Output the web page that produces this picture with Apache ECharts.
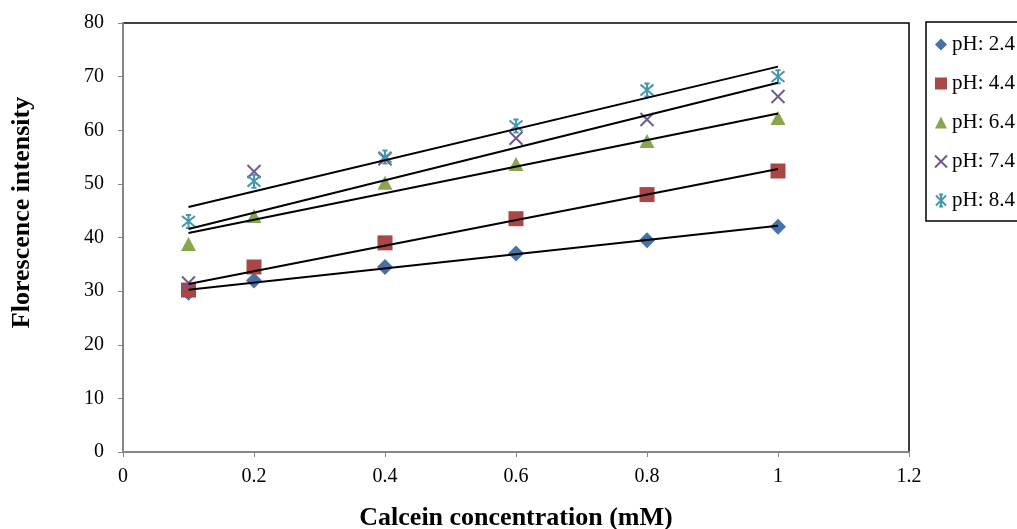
<!DOCTYPE html>
<html>
<head>
<meta charset="utf-8">
<script src="https://cdn.jsdelivr.net/npm/echarts@6/dist/echarts.min.js"></script>
<style>html,body{margin:0;padding:0;background:#fff}#c{width:1017px;height:529px}</style>
</head>
<body>
<div id="c"></div>
<script>
const xValues = [0.1, 0.2, 0.4, 0.6, 0.8, 1.0];
const seriesNames = ['pH: 2.4', 'pH: 4.4', 'pH: 6.4', 'pH: 7.4', 'pH: 8.4'];
const ph24 = [29.7, 32.0, 34.5, 37.0, 39.5, 42.0];
const ph44 = [30.2, 34.5, 39.0, 43.5, 48.0, 52.4];
const ph64 = [38.8, 44.0, 50.2, 53.7, 58.0, 62.3];
const ph74 = [31.5, 52.3, 54.7, 58.5, 62.0, 66.3];
const ph84 = [43.0, 50.5, 55.0, 60.8, 67.5, 70.0];
const allValues = [ph24, ph44, ph64, ph74, ph84];

const colors = ['#4572A7', '#AA4643', '#89A54E', '#71588F', '#4198AF'];
const symbols = [
  'diamond',
  'rect',
  'triangle',
  'path://M0,0L10,10M10,0L0,10',
  'path://M0,0L10,10M10,0L0,10M5,-1L5,11M3,-1L7,-1M3,11L7,11'
];
const sizes = [[16, 16], [15, 15], [15, 14], [13, 13], [13, 13]];

function fit(xs, ys) {
  const n = xs.length;
  const mx = xs.reduce((a, b) => a + b, 0) / n;
  const my = ys.reduce((a, b) => a + b, 0) / n;
  let sxy = 0, sxx = 0;
  for (let i = 0; i < n; i++) { sxy += (xs[i] - mx) * (ys[i] - my); sxx += (xs[i] - mx) ** 2; }
  const b = sxy / sxx, a = my - b * mx;
  return [[xs[0], a + b * xs[0]], [xs[n - 1], a + b * xs[n - 1]]];
}

const font = 'Liberation Serif';
const series = [];
allValues.forEach((vals, i) => {
  const isStroke = i >= 3;
  series.push({
    name: seriesNames[i],
    type: 'scatter',
    data: xValues.map((x, j) => [x, vals[j]]),
    symbol: symbols[i],
    symbolSize: sizes[i],
    z: 3,
    itemStyle: isStroke
      ? { color: 'rgba(0,0,0,0)', borderColor: colors[i], borderWidth: 2, opacity: 1 }
      : { color: colors[i], opacity: 1 }
  });
});
allValues.forEach((vals, i) => {
  series.push({
    name: 'trend' + i,
    type: 'line',
    data: fit(xValues, vals),
    symbol: 'none',
    silent: true,
    z: 4,
    lineStyle: { color: '#000', width: 2 }
  });
});

const chart = echarts.init(document.getElementById('c'), null, { renderer: 'canvas' });
chart.setOption({
  animation: false,
  backgroundColor: '#fff',
  grid: { left: 123, right: 108, top: 23, bottom: 77, show: true, borderColor: '#000', borderWidth: 1.5,
          containLabel: false, outerBoundsMode: 'none' },
  xAxis: {
    type: 'value', min: 0, max: 1.2, interval: 0.2,
    name: 'Calcein concentration (mM)', nameLocation: 'middle', nameGap: 53,
    nameTextStyle: { fontFamily: font, fontSize: 26, fontWeight: 'bold', color: '#000' },
    axisLine: { show: true, lineStyle: { color: '#868686', width: 2 } },
    axisTick: { show: true, length: 5, lineStyle: { color: '#868686' } },
    axisLabel: { fontFamily: font, fontSize: 20, color: '#000', margin: 15 },
    splitLine: { show: false }
  },
  yAxis: {
    type: 'value', min: 0, max: 80, interval: 10,
    name: 'Florescence intensity', nameLocation: 'middle', nameGap: 88,
    nameTextStyle: { fontFamily: font, fontSize: 26, fontWeight: 'bold', color: '#000', padding: [0, 0, 0, 50] },
    axisLine: { show: true, lineStyle: { color: '#868686', width: 2 } },
    axisTick: { show: true, length: 5, lineStyle: { color: '#868686' } },
    axisLabel: { fontFamily: font, fontSize: 20, color: '#000', margin: 19 },
    splitLine: { show: false }
  },
  legend: {
    data: seriesNames,
    orient: 'vertical',
    left: 926, top: 22,
    padding: [12, 4, 10, 8],
    itemGap: 18,
    itemWidth: 12, itemHeight: 12,
    itemTextGap: 3,
    borderColor: '#000', borderWidth: 1.5, borderRadius: 0,
    textStyle: { fontFamily: font, fontSize: 21, color: '#000' }
  },
  series: series
});
</script>
</body>
</html>
